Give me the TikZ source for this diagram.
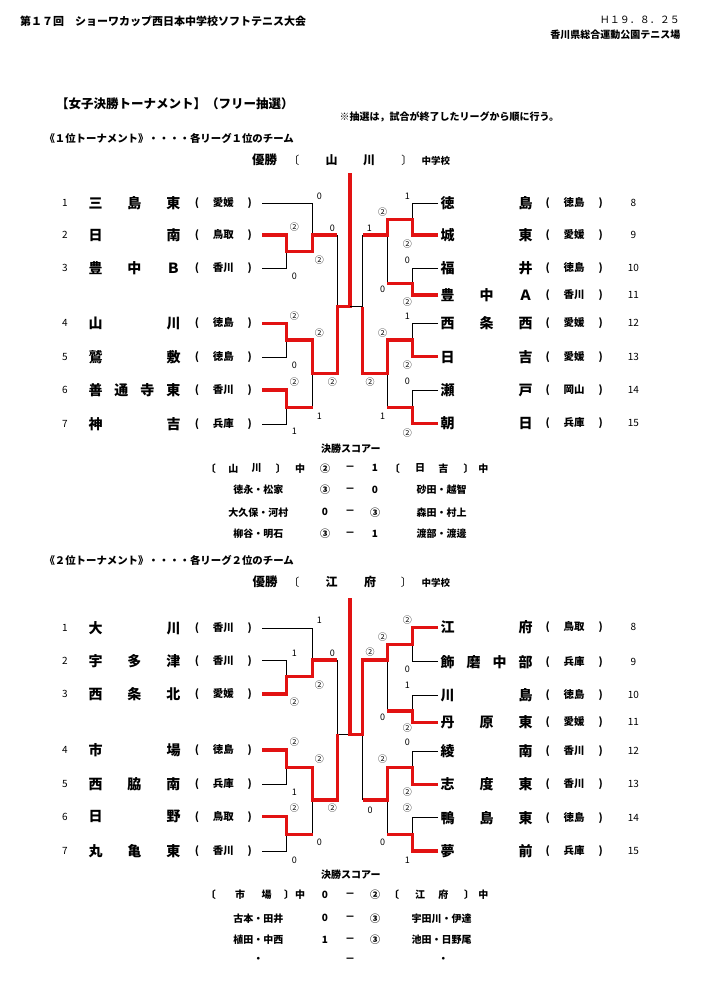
\documentclass[tikz,border=0pt]{standalone}
\usepackage{fontspec}
\usepackage{tikz}
\newfontfamily\jpfont{Noto Sans CJK JP}
\definecolor{winred}{RGB}{226,18,18}
\newcommand{\jp}{\jpfont\bfseries}
\newcommand{\teamname}[1]{\makebox[92pt][s]{#1}}
\newcommand{\prefbox}[1]{\makebox[57pt][s]{(\hfil #1\hfil)}}

\begin{document}
\begin{tikzpicture}[x=1pt,y=-1pt,
  every node/.style={inner sep=0pt},
  txt/.style={font=\jp\fontsize{10}{12}\selectfont},
  num/.style={font=\jpfont\fontsize{10}{12}\selectfont},
  team/.style={font=\jp\fontsize{14}{16}\selectfont},
  pref/.style={font=\jp\fontsize{10.5}{12}\selectfont},
  pts/.style={font=\jpfont\fontsize{9}{10}\selectfont},
  big/.style={font=\jp\fontsize{12}{14}\selectfont},
  win/.style={draw=winred,line width=3.1pt},
  lose/.style={draw=black,line width=0.9pt}]
\fill[white] (0,0) rectangle (702,985);
\useasboundingbox (0,0) rectangle (702,985);

% heading
\node[font=\jp\fontsize{11}{13}\selectfont,anchor=west] (title) at (20,21) {第１７回　ショーワカップ西日本中学校ソフトテニス大会};
\node[font=\jpfont\fontsize{10}{12}\selectfont,anchor=east] (date) at (680,20) {Ｈ１９．８．２５};
\node[txt,anchor=east] (place) at (680.5,35) {香川県総合運動公園テニス場};
\node[font=\jp\fontsize{12.5}{14}\selectfont,anchor=west] (head) at (56,104) {【女子決勝トーナメント】（フリー抽選）};
\node[txt,anchor=west] (note) at (339.5,116.5) {※抽選は，試合が終了したリーグから順に行う。};

% 1st tournament
\node[font=\jp\fontsize{10.4}{12}\selectfont,anchor=west] (asub) at (44.3,138) {《１位トーナメント》・・・・各リーグ１位のチーム};
\node[font=\jp\fontsize{12.5}{14}\selectfont] (ayu) at (264.5,160) {優勝};
\node[font=\jpfont\fontsize{11}{13}\selectfont] (ayl) at (293.9,160) {〔};
\node[big] (ay1) at (331.7,160) {山};
\node[big] (ay2) at (369,160) {川};
\node[font=\jpfont\fontsize{11}{13}\selectfont] (ayr) at (406.8,160) {〕};
\node[font=\jp\fontsize{9.5}{11}\selectfont] (ays) at (435.8,161) {中学校};

\coordinate (a1) at (262,203.3); \node[num] (an1) at (65,203.3) {1}; \node[team] (at1) at (134.5,203.3) {\teamname{三\hfil 島\hfil 東}}; \node[pref] (ap1) at (223.3,203.3) {\prefbox{愛媛}};
\coordinate (a2) at (262,235); \node[num] (an2) at (65,235) {2}; \node[team] (at2) at (134.5,235) {\teamname{日\hfil 南}}; \node[pref] (ap2) at (223.3,235) {\prefbox{鳥取}};
\coordinate (a3) at (262,268.3); \node[num] (an3) at (65,268.3) {3}; \node[team] (at3) at (134.5,268.3) {\teamname{豊\hfil 中\hfil Ｂ}}; \node[pref] (ap3) at (223.3,268.3) {\prefbox{香川}};
\coordinate (a4) at (262,323.3); \node[num] (an4) at (65,323.3) {4}; \node[team] (at4) at (134.5,323.3) {\teamname{山\hfil 川}}; \node[pref] (ap4) at (223.3,323.3) {\prefbox{徳島}};
\coordinate (a5) at (262,357.3); \node[num] (an5) at (65,357.3) {5}; \node[team] (at5) at (134.5,357.3) {\teamname{鷲\hfil 敷}}; \node[pref] (ap5) at (223.3,357.3) {\prefbox{徳島}};
\coordinate (a6) at (262,390); \node[num] (an6) at (65,390) {6}; \node[team] (at6) at (134.5,390) {\teamname{善\hfil 通\hfil 寺\hfil 東}}; \node[pref] (ap6) at (223.3,390) {\prefbox{香川}};
\coordinate (a7) at (262,424); \node[num] (an7) at (65,424) {7}; \node[team] (at7) at (134.5,424) {\teamname{神\hfil 吉}}; \node[pref] (ap7) at (223.3,424) {\prefbox{兵庫}};
\coordinate (a8) at (438,203.3); \node[team] (at8) at (486.7,203.3) {\teamname{徳\hfil 島}}; \node[pref] (ap8) at (574.2,203.3) {\prefbox{徳島}}; \node[num] (an8) at (633.3,203.3) {8};
\coordinate (a9) at (438,235); \node[team] (at9) at (486.7,235) {\teamname{城\hfil 東}}; \node[pref] (ap9) at (574.2,235) {\prefbox{愛媛}}; \node[num] (an9) at (633.3,235) {9};
\coordinate (a10) at (438,268.3); \node[team] (at10) at (486.7,268.3) {\teamname{福\hfil 井}}; \node[pref] (ap10) at (574.2,268.3) {\prefbox{徳島}}; \node[num] (an10) at (633.3,268.3) {10};
\coordinate (a11) at (438,295); \node[team] (at11) at (486.7,295) {\teamname{豊\hfil 中\hfil Ａ}}; \node[pref] (ap11) at (574.2,295) {\prefbox{香川}}; \node[num] (an11) at (633.3,295) {11};
\coordinate (a12) at (438,323.3); \node[team] (at12) at (486.7,323.3) {\teamname{西\hfil 条\hfil 西}}; \node[pref] (ap12) at (574.2,323.3) {\prefbox{愛媛}}; \node[num] (an12) at (633.3,323.3) {12};
\coordinate (a13) at (438,356.7); \node[team] (at13) at (486.7,356.7) {\teamname{日\hfil 吉}}; \node[pref] (ap13) at (574.2,356.7) {\prefbox{愛媛}}; \node[num] (an13) at (633.3,356.7) {13};
\coordinate (a14) at (438,390); \node[team] (at14) at (486.7,390) {\teamname{瀬\hfil 戸}}; \node[pref] (ap14) at (574.2,390) {\prefbox{岡山}}; \node[num] (an14) at (633.3,390) {14};
\coordinate (a15) at (438,423.3); \node[team] (at15) at (486.7,423.3) {\teamname{朝\hfil 日}}; \node[pref] (ap15) at (574.2,423.3) {\prefbox{兵庫}}; \node[num] (an15) at (633.3,423.3) {15};

% left half
\draw[lose] (a1) -| (312.7,235);
\draw[lose] (a3) -| (286.7,251.7);
\draw[lose] (a5) -| (286.7,340);
\draw[lose] (a7) -| (286.7,407.3);
\draw[lose] (312.7,373.3) -- (312.7,407.3);
\draw[lose] (337.3,235) -- (337.3,306.7);
\draw[win] (a2) -| (286.7,251.7) -| (312.7,235) -- (337.3,235);
\draw[win] (a4) -| (286.7,340) -| (312.7,373.3) -| (337.3,306.7) -| (350,173);
\draw[win] (a6) -| (286.7,407.3) -- (312.7,407.3);
% right half
\draw[lose] (a8) -| (412.7,219.3);
\draw[lose] (a10) -| (412.7,283.3);
\draw[lose] (387.3,235) -- (387.3,283.3);
\draw[lose] (362.7,235) -- (362.7,306.7) -- (350,306.7);
\draw[lose] (a12) -| (412.7,340);
\draw[lose] (a14) -| (412.7,407.3);
\draw[lose] (387.3,373.3) -- (387.3,407.3);
\draw[win] (a9) -| (412.7,219.3) -| (387.3,235) -- (362.7,235);
\draw[win] (a11) -| (412.7,283.3) -- (387.3,283.3);
\draw[win] (a13) -| (412.7,340) -| (387.3,373.3) -| (362.7,306.7);
\draw[win] (a15) -| (412.7,407.3) -- (387.3,407.3);

% scores
\node[pts] (as1) at (319.3,196) {0}; \node[pts] (as2) at (294.3,227.3) {②}; \node[pts] (as3) at (332.3,228.3) {0};
\node[pts] (as4) at (319.3,260) {②}; \node[pts] (as5) at (294.3,276.7) {0}; \node[pts] (as6) at (294.3,315.7) {②};
\node[pts] (as7) at (319.3,332.7) {②}; \node[pts] (as8) at (294.3,365.7) {0}; \node[pts] (as9) at (294.3,381.7) {②};
\node[pts] (as10) at (332.3,381.7) {②}; \node[pts] (as11) at (319.3,416.7) {1}; \node[pts] (as12) at (294.3,431.7) {1};
\node[pts] (as13) at (407.3,196) {1}; \node[pts] (as14) at (382.7,211.7) {②}; \node[pts] (as15) at (369.3,228.3) {1};
\node[pts] (as16) at (407.3,244) {②}; \node[pts] (as17) at (407.3,260) {0}; \node[pts] (as18) at (382.7,289.3) {0};
\node[pts] (as19) at (407.3,301.7) {②}; \node[pts] (as20) at (407.3,316) {1}; \node[pts] (as21) at (382.7,332.7) {②};
\node[pts] (as22) at (407.3,365) {②}; \node[pts] (as23) at (370,381.7) {②}; \node[pts] (as24) at (407.3,381.7) {0};
\node[pts] (as25) at (382.7,416.7) {1}; \node[pts] (as26) at (407.3,433.3) {②};

% final score
\node[txt] (af0) at (350.8,448.3) {決勝スコアー};
\node[txt] (af1) at (210.8,468.3) {〔}; \node[txt] (af2) at (233.3,468.3) {山}; \node[txt] (af3) at (256.7,468.3) {川};
\node[txt] (af4) at (280.8,468.3) {〕}; \node[txt] (af5) at (300,468.3) {中}; \node[txt] (af6) at (325,468.3) {②};
\node[txt] (af7) at (350,468.3) {－}; \node[txt] (af8) at (375,468.3) {1}; \node[txt] (af9) at (394.8,468.3) {〔};
\node[txt] (af10) at (420,468.3) {日}; \node[txt] (af11) at (443.3,468.3) {吉}; \node[txt] (af12) at (468.5,468.3) {〕};
\node[txt] (af13) at (483.3,468.3) {中};
\node[txt] (ag1) at (258.3,490) {徳永・松家}; \node[txt] (ag2) at (325,490) {③}; \node[txt] (ag3) at (350,490) {－};
\node[txt] (ag4) at (375,490) {0}; \node[txt] (ag5) at (441.7,490) {砂田・越智};
\node[txt] (ah1) at (258.3,512.3) {大久保・河村}; \node[txt] (ah2) at (325,512.3) {0}; \node[txt] (ah3) at (350,512.3) {－};
\node[txt] (ah4) at (375,512.3) {③}; \node[txt] (ah5) at (441.7,512.3) {森田・村上};
\node[txt] (ai1) at (258.3,534) {柳谷・明石}; \node[txt] (ai2) at (325,534) {③}; \node[txt] (ai3) at (350,534) {－};
\node[txt] (ai4) at (375,534) {1}; \node[txt] (ai5) at (441.7,534) {渡部・渡邊};

% 2nd tournament
\node[font=\jp\fontsize{10.4}{12}\selectfont,anchor=west] (bsub) at (44.3,560) {《２位トーナメント》・・・・各リーグ２位のチーム};
\node[font=\jp\fontsize{12.5}{14}\selectfont] (byu) at (265,582) {優勝};
\node[font=\jpfont\fontsize{11}{13}\selectfont] (byl) at (293.9,582) {〔};
\node[big] (by1) at (331.7,582) {江};
\node[big] (by2) at (370,582) {府};
\node[font=\jpfont\fontsize{11}{13}\selectfont] (byr) at (406.3,582) {〕};
\node[font=\jp\fontsize{9.5}{11}\selectfont] (bys) at (435.8,583) {中学校};

\coordinate (b1) at (262,628.3); \node[num] (bn1) at (65,628.3) {1}; \node[team] (bt1) at (134.5,628.3) {\teamname{大\hfil 川}}; \node[pref] (bp1) at (223.3,628.3) {\prefbox{香川}};
\coordinate (b2) at (262,660.7); \node[num] (bn2) at (65,660.7) {2}; \node[team] (bt2) at (134.5,660.7) {\teamname{宇\hfil 多\hfil 津}}; \node[pref] (bp2) at (223.3,660.7) {\prefbox{香川}};
\coordinate (b3) at (262,694); \node[num] (bn3) at (65,694) {3}; \node[team] (bt3) at (134.5,694) {\teamname{西\hfil 条\hfil 北}}; \node[pref] (bp3) at (223.3,694) {\prefbox{愛媛}};
\coordinate (b4) at (262,750); \node[num] (bn4) at (65,750) {4}; \node[team] (bt4) at (134.5,750) {\teamname{市\hfil 場}}; \node[pref] (bp4) at (223.3,750) {\prefbox{徳島}};
\coordinate (b5) at (262,784.3); \node[num] (bn5) at (65,784.3) {5}; \node[team] (bt5) at (134.5,784.3) {\teamname{西\hfil 脇\hfil 南}}; \node[pref] (bp5) at (223.3,784.3) {\prefbox{兵庫}};
\coordinate (b6) at (262,816.7); \node[num] (bn6) at (65,816.7) {6}; \node[team] (bt6) at (134.5,816.7) {\teamname{日\hfil 野}}; \node[pref] (bp6) at (223.3,816.7) {\prefbox{鳥取}};
\coordinate (b7) at (262,851); \node[num] (bn7) at (65,851) {7}; \node[team] (bt7) at (134.5,851) {\teamname{丸\hfil 亀\hfil 東}}; \node[pref] (bp7) at (223.3,851) {\prefbox{香川}};
\coordinate (b8) at (438,627.3); \node[team] (bt8) at (486.7,627.3) {\teamname{江\hfil 府}}; \node[pref] (bp8) at (574.2,627.3) {\prefbox{鳥取}}; \node[num] (bn8) at (633.3,627.3) {8};
\coordinate (b9) at (438,661.7); \node[team] (bt9) at (486.7,661.7) {\teamname{飾\hfil 磨\hfil 中\hfil 部}}; \node[pref] (bp9) at (574.2,661.7) {\prefbox{兵庫}}; \node[num] (bn9) at (633.3,661.7) {9};
\coordinate (b10) at (438,695); \node[team] (bt10) at (486.7,695) {\teamname{川\hfil 島}}; \node[pref] (bp10) at (574.2,695) {\prefbox{徳島}}; \node[num] (bn10) at (633.3,695) {10};
\coordinate (b11) at (438,722.3); \node[team] (bt11) at (486.7,722.3) {\teamname{丹\hfil 原\hfil 東}}; \node[pref] (bp11) at (574.2,722.3) {\prefbox{愛媛}}; \node[num] (bn11) at (633.3,722.3) {11};
\coordinate (b12) at (438,751); \node[team] (bt12) at (486.7,751) {\teamname{綾\hfil 南}}; \node[pref] (bp12) at (574.2,751) {\prefbox{香川}}; \node[num] (bn12) at (633.3,751) {12};
\coordinate (b13) at (438,784.3); \node[team] (bt13) at (486.7,784.3) {\teamname{志\hfil 度\hfil 東}}; \node[pref] (bp13) at (574.2,784.3) {\prefbox{香川}}; \node[num] (bn13) at (633.3,784.3) {13};
\coordinate (b14) at (438,817.7); \node[team] (bt14) at (486.7,817.7) {\teamname{鴨\hfil 島\hfil 東}}; \node[pref] (bp14) at (574.2,817.7) {\prefbox{徳島}}; \node[num] (bn14) at (633.3,817.7) {14};
\coordinate (b15) at (438,851); \node[team] (bt15) at (486.7,851) {\teamname{夢\hfil 前}}; \node[pref] (bp15) at (574.2,851) {\prefbox{兵庫}}; \node[num] (bn15) at (633.3,851) {15};

% left half
\draw[lose] (b1) -| (312.7,660);
\draw[lose] (b2) -| (286.7,676.7);
\draw[lose] (337.3,660) -- (337.3,734.3) -- (350,734.3);
\draw[lose] (b5) -| (286.7,767.7);
\draw[lose] (b7) -| (286.7,834.3);
\draw[lose] (312.7,800) -- (312.7,834.3);
\draw[win] (b3) -| (286.7,676.7) -| (312.7,660) -- (337.3,660);
\draw[win] (b4) -| (286.7,767.7) -| (312.7,800) -| (337.3,734.3);
\draw[win] (b6) -| (286.7,834.3) -- (312.7,834.3);
% right half
\draw[lose] (b9) -| (412.7,644.3);
\draw[lose] (b10) -| (412.7,711);
\draw[lose] (387.3,660) -- (387.3,711);
\draw[lose] (362.7,734.3) -- (362.7,800);
\draw[lose] (b12) -| (412.7,767.7);
\draw[lose] (b14) -| (412.7,834.3);
\draw[lose] (387.3,800) -- (387.3,834.3);
\draw[win] (b8) -| (412.7,644.3) -| (387.3,660) -| (362.7,734.3) -| (350,598);
\draw[win] (b11) -| (412.7,711) -- (387.3,711);
\draw[win] (b13) -| (412.7,767.7) -| (387.3,800) -- (362.7,800);
\draw[win] (b15) -| (412.7,834.3) -- (387.3,834.3);

% scores
\node[pts] (bs1) at (319.3,620) {1}; \node[pts] (bs2) at (294.3,653.3) {1}; \node[pts] (bs3) at (332.3,653.3) {0};
\node[pts] (bs4) at (319.3,685) {②}; \node[pts] (bs5) at (294.3,701.7) {②}; \node[pts] (bs6) at (294.3,741.7) {②};
\node[pts] (bs7) at (319.3,759) {②}; \node[pts] (bs8) at (294.3,792.3) {1}; \node[pts] (bs9) at (294.3,808.3) {②};
\node[pts] (bs10) at (332.3,808.3) {②}; \node[pts] (bs11) at (319.3,842.3) {0}; \node[pts] (bs12) at (294.3,860) {0};
\node[pts] (bs13) at (407.3,620) {②}; \node[pts] (bs14) at (382.7,636.7) {②}; \node[pts] (bs15) at (370,652.3) {②};
\node[pts] (bs16) at (407.3,669) {0}; \node[pts] (bs17) at (407.3,685.7) {1}; \node[pts] (bs18) at (382.7,717.7) {0};
\node[pts] (bs19) at (407.3,728.3) {②}; \node[pts] (bs20) at (407.3,742.3) {0}; \node[pts] (bs21) at (382.7,759) {②};
\node[pts] (bs22) at (407.3,792.3) {②}; \node[pts] (bs23) at (370,810) {0}; \node[pts] (bs24) at (407.3,808.3) {②};
\node[pts] (bs25) at (382.7,842.3) {0}; \node[pts] (bs26) at (407.3,860) {1};

% final score
\node[txt] (bf0) at (350.8,875) {決勝スコアー};
\node[txt] (bf1) at (210.8,895) {〔}; \node[txt] (bf2) at (240,895) {市}; \node[txt] (bf3) at (266.7,895) {場};
\node[txt] (bf4) at (289.2,895) {〕}; \node[txt] (bf5) at (300,895) {中}; \node[txt] (bf6) at (325,895) {0};
\node[txt] (bf7) at (350,895) {－}; \node[txt] (bf8) at (375,895) {②}; \node[txt] (bf9) at (394.2,895) {〔};
\node[txt] (bf10) at (420,895) {江}; \node[txt] (bf11) at (443.3,895) {府}; \node[txt] (bf12) at (469.2,895) {〕};
\node[txt] (bf13) at (483.3,895) {中};
\node[txt] (bg1) at (258.3,918.3) {古本・田井}; \node[txt] (bg2) at (325,918.3) {0}; \node[txt] (bg3) at (350,918.3) {－};
\node[txt] (bg4) at (375,918.3) {③}; \node[txt] (bg5) at (441.7,918.3) {宇田川・伊達};
\node[txt] (bh1) at (258.3,940) {植田・中西}; \node[txt] (bh2) at (325,940) {1}; \node[txt] (bh3) at (350,940) {－};
\node[txt] (bh4) at (375,940) {③}; \node[txt] (bh5) at (441.7,940) {池田・日野尾};
\node[txt] (bi1) at (258.3,960) {・}; \node[txt] (bi3) at (350,960) {－}; \node[txt] (bi5) at (443.3,960) {・};

\end{tikzpicture}
\end{document}
